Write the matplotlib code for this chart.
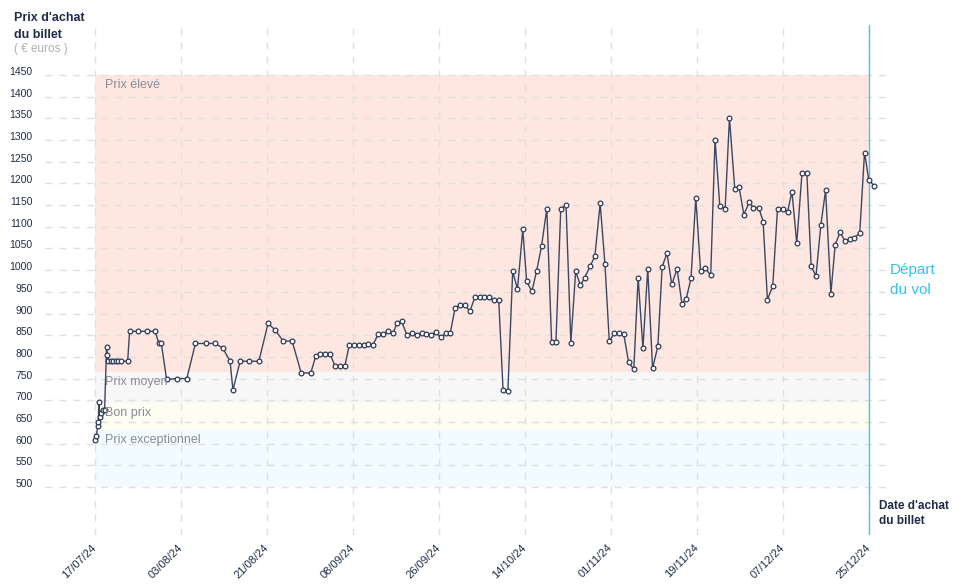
import numpy as np
import matplotlib
matplotlib.use("Agg")
import matplotlib.pyplot as plt

plt.rcParams['font.family'] = ['Liberation Sans', 'DejaVu Sans']

# jours depuis le 17/07/24 et prix relevés (euros)
jours = [0.0, 0.3, 0.55, 0.7, 0.8, 1.0, 1.2, 1.6, 2.0, 2.4, 2.6, 2.8, 3.3, 3.8, 4.3, 4.8, 5.4, 6.8,
         7.2, 9.0, 10.8, 12.5, 13.3, 13.8, 14.9, 17.1, 19.1, 20.9, 23.1, 25.0, 26.6, 28.1, 28.7,
         30.2, 32.0, 34.1, 36.0, 37.4, 39.2, 41.0, 42.9, 44.9, 45.9, 46.9, 47.9, 48.9, 49.9, 50.9,
         52.0, 52.9, 53.9, 54.9, 56.0, 56.9, 57.8, 58.9, 59.9, 61.0, 62.0, 62.8, 63.8, 64.9, 66.0,
         67.0, 68.0, 68.9, 69.9, 70.9, 72.0, 73.0, 73.9, 74.9, 75.9, 77.0, 78.0, 79.0, 80.0, 81.0,
         82.0, 83.0, 84.0, 84.9, 85.9, 86.9, 87.9, 89.0, 89.8, 90.9, 91.9, 92.9, 94.0, 95.0, 95.9,
         96.9, 98.0, 99.0, 100.0, 101.0, 101.9, 103.0, 104.0, 105.1, 106.1, 107.0, 108.0, 109.0,
         110.0, 111.0, 112.1, 113.0, 114.0, 115.0, 116.0, 117.1, 118.0, 119.0, 120.0, 121.1, 122.1,
         123.0, 124.0, 125.0, 126.0, 127.0, 128.1, 129.0, 130.0, 131.1, 132.0, 133.1, 134.0, 135.0,
         136.1, 137.0, 138.1, 139.0, 139.9, 141.0, 142.0, 143.1, 144.1, 145.0, 146.0, 147.1, 148.1,
         149.0, 150.0, 151.0, 152.0, 153.1, 154.0, 155.0, 156.0, 157.0, 158.0, 159.1, 160.1, 161.0,
         162.1]
prix = [608, 618, 640, 650, 695, 662, 670, 677, 677, 822, 804, 790, 790, 790, 790, 790, 790, 790,
        859, 859, 859, 859, 831, 831, 748, 750, 750, 831, 831, 831, 820, 790, 724,
        790, 790, 790, 877, 863, 836, 837, 763, 763, 801, 807, 807, 807, 780, 780,
        780, 827, 827, 827, 827, 830, 827, 852, 852, 859, 854, 877, 882, 850, 854,
        850, 854, 852, 850, 857, 845, 854, 854, 912, 919, 919, 905, 937, 937, 937,
        937, 930, 930, 723, 721, 997, 956, 1094, 974, 951, 999, 1055, 1142, 834, 834,
        1142, 1149, 833, 997, 965, 983, 1009, 1032, 1154, 1013, 836, 854, 854,
        853, 789, 771, 983, 820, 1003, 774, 824, 1008, 1039, 967, 1003, 923,
        934, 981, 1167, 997, 1004, 988, 1301, 1147, 1142, 1351, 1188, 1191, 1128,
        1156, 1144, 1144, 1112, 932, 963, 1142, 1140, 1135, 1181, 1062, 1225, 1223,
        1009, 986, 1103, 1184, 946, 1059, 1087, 1068, 1071, 1075, 1085, 1271, 1207,
        1195]

dates_ticks = ["17/07/24", "03/08/24", "21/08/24", "08/09/24", "26/09/24",
               "14/10/24", "01/11/24", "19/11/24", "07/12/24", "25/12/24"]
jour_depart = 161

# zones de prix
noms_zones = ["Prix exceptionnel", "Bon prix", "Prix moyen", "Prix élevé"]
bas_zones = [500, 632, 694, 765]
hauts_zones = [632, 694, 765, 1450]
couleurs_zones = ["#f2fbfe", "#fdfdf1", "#f7f7f7", "#fee7e1"]

navy = "#1f2b48"

fig = plt.figure(figsize=(9.58, 5.85), dpi=100)
ax = fig.add_axes([45/958, 50/585, 845/958, 510/585])

for nom, lo, hi, c in zip(noms_zones, bas_zones, hauts_zones, couleurs_zones):
    ax.fill_between([0, jour_depart], lo, hi, color=c, lw=0, zorder=0)
    ax.annotate(nom, (0, hi), xytext=(7.5, -3), textcoords='offset points',
                ha='left', va='top', fontsize=9, color='#8a8c99', zorder=5)

ax.plot(jours, prix, color='#3b4863', lw=1, marker='o', ms=3.4,
        mfc='white', mec='#2c3a55', mew=0.9, zorder=4)
ax.axvline(jour_depart, color='#4fc3e6', lw=1, zorder=3)

ax.set_xlim(-10.4, 165.4)
ax.set_ylim(389.5, 1565)
ax.set_yticks(np.arange(500, 1451, 50))
ax.set_xticks(np.linspace(0, jour_depart, len(dates_ticks)))
ax.set_xticklabels(dates_ticks, rotation=45, ha='right', va='center',
                   rotation_mode='anchor', fontsize=8, color=navy)
for lbl in ax.get_yticklabels():
    lbl.set_va('baseline')
    lbl.set_fontsize(7.5)
    lbl.set_color(navy)
ax.tick_params(axis='y', length=0, pad=9)
ax.tick_params(axis='x', length=0, pad=8)
ax.set_axisbelow(False)
ax.grid(True, color='#e0e0e0', lw=1, linestyle=(0, (5, 5)), zorder=1)
for s in ax.spines.values():
    s.set_visible(False)

fig.text(14/958, 1 - 12/585, "Prix d'achat\ndu billet", ha='left', va='top',
         fontsize=9, fontweight='bold', color=navy, linespacing=1.55)
fig.text(14/958, 1 - 43/585, "( € euros )", ha='left', va='top',
         fontsize=8.5, color='#b0b0b0')
fig.text(890/958, 1 - 263/585, "Départ\ndu vol", ha='left', va='top',
         fontsize=11, color='#33c3ec', linespacing=1.5)
fig.text(879/958, 1 - 500/585, "Date d'achat\ndu billet", ha='left', va='top',
         fontsize=8.5, fontweight='bold', color=navy, linespacing=1.35)

fig.savefig("out.png", dpi=100)
